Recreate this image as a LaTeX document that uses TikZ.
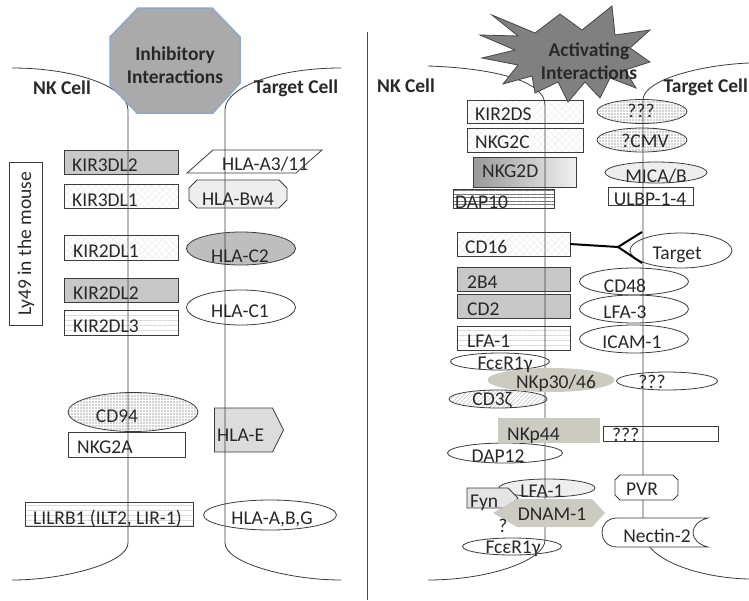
\documentclass[tikz,border=0pt]{standalone}
\usepackage{fontspec}
\setmainfont{Carlito}
\usetikzlibrary{shapes.geometric,shapes.symbols,patterns.meta}

\newcommand\molfont{\fontsize{19.5}{22}\selectfont}
\newcommand\headfont{\bfseries\fontsize{19.5}{23}\selectfont}

\definecolor{ink}{RGB}{40,40,40}
\definecolor{edge}{RGB}{60,60,60}
\definecolor{boxgray}{RGB}{200,200,200}
\definecolor{ctwogray}{RGB}{190,190,190}
\definecolor{pale}{RGB}{238,238,238}
\definecolor{hlaegray}{RGB}{220,220,220}
\definecolor{fyngray}{RGB}{228,228,228}
\definecolor{nkgray}{RGB}{203,203,194}
\definecolor{octfill}{RGB}{170,170,170}
\definecolor{octedge}{RGB}{143,168,200}
\definecolor{starfill}{RGB}{128,128,128}
\definecolor{staredge}{RGB}{70,70,70}

\tikzset{
  mol/.style={draw=edge, line width=0.8pt, inner sep=0pt, outer sep=0pt},
  rbox/.style={mol, rectangle},
  ell/.style={mol, ellipse},
  tagshape/.style={mol, signal, signal to=east, signal pointer angle=#1},
  txt/.style={inner sep=0pt, text=ink, font=\molfont},
  head/.style={inner sep=0pt, text=ink, font=\headfont, align=center},
  weave/.style={pattern={Hatch[angle=45,distance=5pt,line width=0.4pt]}, pattern color=black!8},
  speckle/.style={pattern={Dots[distance=3pt,radius=0.55pt]}, pattern color=black!75},
  hlines/.style={pattern={Lines[angle=0,distance=5pt,line width=0.5pt]}, pattern color=black!15},
  dlines/.style={pattern={Lines[angle=0,distance=3.5pt,line width=0.5pt]}, pattern color=black!55},
  slant/.style={pattern={Lines[angle=45,distance=3pt,line width=0.5pt]}, pattern color=black!25},
  membrane/.style={draw=edge, line width=0.8pt},
  forkline/.style={draw=black, line width=2pt},
}

\begin{document}
\begin{tikzpicture}[x=1pt,y=-1pt]
\useasboundingbox (0,0) rectangle (749,600);
\fill[white] (0,0) rectangle (749,600);

% ================= inhibitory receptors (NK side) =================
\node[rbox, fill=boxgray, minimum width=114, minimum height=24] (kir3dl2) at (121,162) {};
\node[rbox, weave, minimum width=114, minimum height=24] (kir3dl1) at (121,196) {};
\node[rbox, weave, minimum width=114, minimum height=25] (kir2dl1) at (121,247.5) {};
\node[rbox, fill=boxgray, minimum width=114, minimum height=24] (kir2dl2) at (121,290) {};
\node[rbox, hlines, minimum width=114, minimum height=25] (kir2dl3) at (121,322.5) {};
\node[ell, speckle, minimum width=130, minimum height=39] (cd94) at (133,412) {};
\node[rbox, minimum width=117, minimum height=25] (nkg2a) at (126.5,444.5) {};
\node[rbox, hlines, minimum width=168, minimum height=24] (lilrb1) at (109,514) {};
\node[rbox, minimum width=33, minimum height=163] (ly49) at (25.5,243.5) {};

% ================= ligands (target side) =================
\draw[mol] (187,173) -- (213,150) -- (322,150) -- (296,173) -- cycle;
\draw[mol, fill=pale] (197,180) -- (279,180) -- (287,188) -- (287,200) -- (279,208)
  -- (197,208) -- (189,200) -- (189,188) -- cycle;
\node[ell, fill=ctwogray, minimum width=109, minimum height=33] (hlactwo) at (241,248.5) {};
\node[ell, minimum width=109, minimum height=35] (hlacone) at (241,307.5) {};
\node[tagshape=127, fill=hlaegray, minimum width=69, minimum height=44] (hlae) at (243.5,430) {};
\node[ell, minimum width=133, minimum height=30] (hlaabg) at (270,515) {};

% ================= activating receptors (NK side) =================
\node[rbox, weave, minimum width=116, minimum height=23] (kir2ds) at (525,111.5) {};
\node[rbox, weave, minimum width=116, minimum height=24] (nkg2c) at (525,140) {};
\node[rbox, left color=black!40, right color=black!6, minimum width=103, minimum height=30] (nkg2d) at (524.5,172) {};
\node[rbox, dlines, minimum width=101, minimum height=19] (dap10) at (503.5,198.5) {};
\node[rbox, weave, minimum width=113, minimum height=24] (cd16) at (513.5,244) {};
\node[rbox, fill=boxgray, minimum width=113, minimum height=24] (tbfour) at (513.5,279) {};
\node[rbox, fill=boxgray, minimum width=113, minimum height=24] (cd2) at (513.5,306) {};
\node[rbox, hlines, minimum width=113, minimum height=24] (lfaoner) at (513.5,338) {};
\node[ell, fill=white, minimum width=99, minimum height=17] (fceone) at (500,361.5) {};
\node[ell, slant, minimum width=98, minimum height=18] (cd3z) at (498,399) {};
\node[ell, minimum width=115, minimum height=20] (dap12) at (505,453) {};
\node[ell, fill=pale, minimum width=96, minimum height=18] (lfaonee) at (547,488) {};
\node[tagshape=90, fill=fyngray, minimum width=51, minimum height=20] (fyn) at (487.5,498) {};
\node[ell, fill=white, minimum width=99, minimum height=17] (fcetwo) at (512,546.5) {};

% ================= activating ligands (target side) =================
\node[ell, speckle, minimum width=90, minimum height=24] (qone) at (642,111.5) {};
\node[ell, speckle, minimum width=90, minimum height=24] (cmv) at (642,140) {};
\node[ell, fill=pale, minimum width=102, minimum height=21] (mica) at (656,172.5) {};
\node[rbox, minimum width=85, minimum height=18] (ulbp) at (650.5,196) {};
\node[ell, minimum width=102, minimum height=35] (target) at (681,250.5) {};
\node[ell, minimum width=109, minimum height=27] (cd48) at (634,281.5) {};
\node[ell, minimum width=109, minimum height=28] (lfathree) at (634,309) {};
\node[ell, minimum width=109, minimum height=28] (icam1) at (634,339) {};
\node[ell, minimum width=101, minimum height=18] (qtwo) at (667,381) {};
\node[rbox, minimum width=115, minimum height=15] (qthree) at (660.5,433.5) {};

% ================= membranes =================
\draw[membrane] (12,68) .. controls (76,68) and (128,87) .. (128,110)
  -- (128,543) .. controls (128,563) and (64,580) .. (12,580);
\draw[membrane] (341,68) .. controls (277,68) and (225,87) .. (225,110)
  -- (225,543) .. controls (225,563) and (289,580) .. (341,580);
\draw[draw=black!70, line width=0.8pt] (367,32) -- (367,600);
\draw[membrane] (428,66) .. controls (490,68) and (545,80) .. (545,105)
  -- (545,540) .. controls (545,560) and (490,580) .. (428,580);
\draw[membrane] (749,63) .. controls (700,65) and (643,80) .. (643,100)
  -- (643,530) .. controls (643,560) and (700,578) .. (749,579);

% antibody bridge from CD16 to the target
\coordinate (fork) at (618,247);
\coordinate (armup) at (642,232);
\coordinate (armdown) at (642,263);
\draw[forkline] (cd16.east) -- (fork) -- (armup);
\draw[forkline] (fork) -- (armdown);

% ================= opaque receptors and ligands over the membranes =================
\node[ell, draw=none, fill=nkgray, minimum width=127, minimum height=24] (nkp3046) at (551,380) {};
\node[rbox, draw=none, fill=nkgray, minimum width=102, minimum height=25] (nkp44) at (549,430.5) {};
\fill[nkgray] (493,513) -- (517,499) -- (592,499) -- (605,513) -- (592,527) -- (517,527) -- cycle;
\draw[mol, fill=white] (620,475) -- (673,475) -- (678,480) -- (678,495) -- (673,500)
  -- (620,500) -- (615,495) -- (615,480) -- cycle;
\filldraw[mol, fill=white] (708,518) -- (617,518) .. controls (597,518) and (597,547) .. (617,547)
  -- (708,547) .. controls (688,542) and (688,523) .. (708,518) -- cycle;

% ================= headers =================
\draw[line width=1.5pt, draw=octedge, fill=octfill] (138,8) -- (212,8) -- (240,37) -- (240,83)
  -- (213,113) -- (137,113) -- (110,85) -- (110,37) -- cycle;
\node[head] (inhib) at (175,65) {Inhibitory\\Interactions};

\draw[line width=0.8pt, draw=staredge, fill=starfill]
  (492,15) -- (535,33) -- (560,14) -- (582,30) -- (612,6) -- (615,35) -- (650,30) -- (630,48)
  -- (650,62) -- (625,70) -- (636,88) -- (610,78) -- (600,98) -- (585,82) -- (568,102) -- (558,82)
  -- (535,93) -- (532,76) -- (503,84) -- (518,65) -- (482,58) -- (515,50) -- (480,35) -- (518,36) -- cycle;
\node[head] (activ) at (589,61) {Activating\\Interactions};

\node[head, anchor=base] (nkleft) at (62,94) {NK Cell};
\node[head, anchor=base] (tcleft) at (296,93) {Target Cell};
\node[head, anchor=base] (nkright) at (406,92) {NK Cell};
\node[head, anchor=base east] (tcright) at (748,92) {Target Cell};

% ================= labels, inhibitory side =================
\node[txt, anchor=base west] at (72,171) {KIR3DL2};
\node[txt, anchor=base west] at (72,206) {KIR3DL1};
\node[txt, anchor=base west] at (73,257) {KIR2DL1};
\node[txt, anchor=base west] at (73,299) {KIR2DL2};
\node[txt, anchor=base west] at (73,332) {KIR2DL3};
\node[txt, anchor=base] at (117,422) {CD94};
\node[txt, anchor=base west] at (77,453) {NKG2A};
\node[txt, anchor=base west] at (33,524) {LILRB1 (ILT2, LIR-1)};
\node[txt, rotate=90] at (26,244) {Ly49 in the mouse};
\node[txt, anchor=base west] at (222,170) {HLA-A3/11};
\node[txt, anchor=base] at (238,205) {HLA-Bw4};
\node[txt, anchor=base] at (240,262) {HLA-C2};
\node[txt, anchor=base] at (240,317) {HLA-C1};
\node[txt, anchor=base west] at (217,441) {HLA-E};
\node[txt, anchor=base] at (272,524) {HLA-A,B,G};

% ================= labels, activating side =================
\node[txt, anchor=base west] at (475,120) {KIR2DS};
\node[txt, anchor=base west] at (475,148) {NKG2C};
\node[txt, anchor=base west] at (482,177) {NKG2D};
\node[txt, anchor=base west] at (455,208) {DAP10};
\node[txt, anchor=base] at (641,117) {???};
\node[txt, anchor=base] at (645,147) {?CMV};
\node[txt, anchor=base] at (656,182) {MICA/B};
\node[txt, anchor=base] at (650,205) {ULBP-1-4};
\node[txt, anchor=base west] at (465,253) {CD16};
\node[txt, anchor=base] at (677,259) {Target};
\node[txt, anchor=base west] at (467,288) {2B4};
\node[txt, anchor=base west] at (467,315) {CD2};
\node[txt, anchor=base west] at (467,347) {LFA-1};
\node[txt, anchor=base] at (625,292) {CD48};
\node[txt, anchor=base] at (625,318) {LFA-3};
\node[txt, anchor=base] at (632,348) {ICAM-1};
\node[txt, anchor=base] at (505,369) {FcεR1γ};
\node[txt, anchor=base] at (556,388) {NKp30/46};
\node[txt, anchor=base] at (652,388) {???};
\node[txt, anchor=base] at (492,405) {CD3ζ};
\node[txt, anchor=base west] at (507,440) {NKp44};
\node[txt, anchor=base west] at (612,441) {???};
\node[txt, anchor=base] at (498,462) {DAP12};
\node[txt, anchor=base] at (542,497) {LFA-1};
\node[txt, anchor=base west] at (470,507) {Fyn};
\node[txt, anchor=base] at (552,520) {DNAM-1};
\node[txt, anchor=base] at (503,532) {?};
\node[txt, anchor=base] at (513,553) {FcεR1γ};
\node[txt, anchor=base] at (642,495) {PVR};
\node[txt, anchor=base] at (657,542) {Nectin-2};
\end{tikzpicture}
\end{document}
